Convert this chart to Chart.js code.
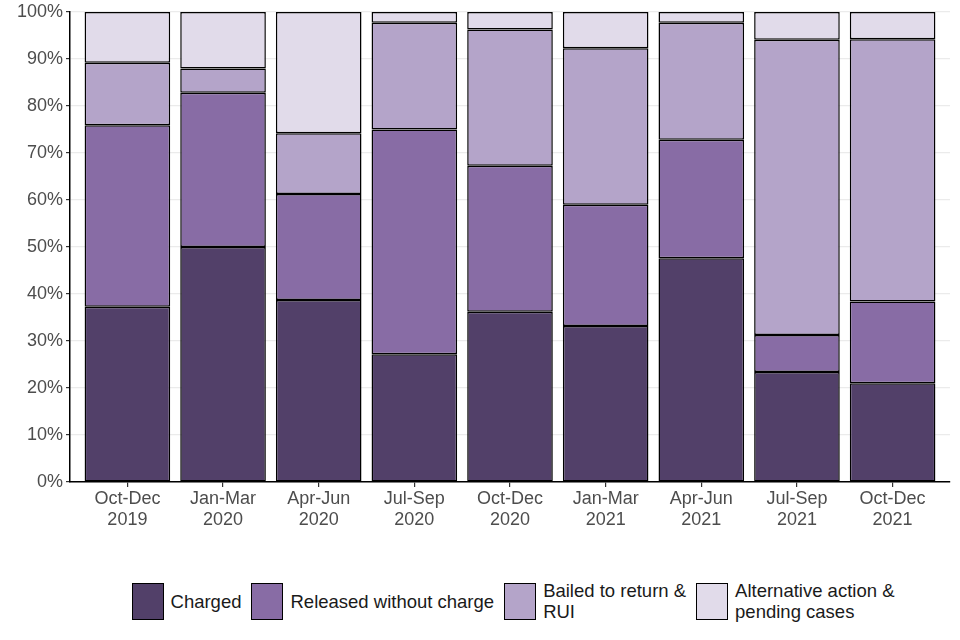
<!DOCTYPE html>
<html>
<head>
<meta charset="utf-8">
<script src="https://cdn.jsdelivr.net/npm/chart.js@4/dist/chart.umd.min.js"></script>
<style>
  html, body { margin: 0; padding: 0; background: #fff; }
  #wrap { position: relative; width: 960px; height: 640px; }
  #c { position: absolute; left: 0; top: 0; }
  #legend { position: absolute; left: 38px; top: 580px; width: 960px; display: flex; justify-content: center; align-items: center;
    font-family: "Liberation Sans", Arial, sans-serif; font-size: 18.5px; color: #1a1a1a; }
  .item { display: flex; align-items: center; margin-right: 10px; }
  .box { width: 32px; height: 37px; border: 1px solid #000; box-sizing: border-box; margin-right: 7px; }
  .lab { line-height: 21px; }
</style>
</head>
<body>
<div id="wrap">
  <canvas id="c" width="960" height="545"></canvas>
  <div id="legend"></div>
</div>
<script>
const categories = [["Oct-Dec","2019"],["Jan-Mar","2020"],["Apr-Jun","2020"],["Jul-Sep","2020"],["Oct-Dec","2020"],["Jan-Mar","2021"],["Apr-Jun","2021"],["Jul-Sep","2021"],["Oct-Dec","2021"]];
const charged  = [37.3, 50.0, 38.7, 27.2, 36.2, 33.2, 47.6, 23.4, 21.0];
const released = [38.6, 32.8, 22.6, 47.8, 31.1, 25.8, 25.2, 7.9, 17.4];
const bailed   = [13.3, 5.2, 12.9, 22.7, 29.0, 33.3, 24.9, 62.8, 55.8];
const altAction = [10.8, 12.0, 25.8, 2.3, 3.7, 7.7, 2.3, 5.9, 5.8];
const seriesNames = ["Charged", "Released without charge", ["Bailed to return &", "RUI"], ["Alternative action &", "pending cases"]];
const seriesColors = ["#524069", "#886ca5", "#b4a4c9", "#e1dbea"];
const yTicks = [0,10,20,30,40,50,60,70,80,90,100];

const seriesData = [charged, released, bailed, altAction];
const datasets = seriesData.map((arr, i) => ({
  label: Array.isArray(seriesNames[i]) ? seriesNames[i].join(" ") : seriesNames[i],
  data: arr.map((v, j) => ({ x: j + 1, y: v })),
  backgroundColor: seriesColors[i],
  borderColor: "#000",
  borderWidth: 1.5,
  borderSkipped: false,
  categoryPercentage: 1,
  barPercentage: 0.895
}));

const xFont = { family: '"Liberation Sans", Arial, sans-serif', size: 18, lineHeight: 1.2 };
const yFont = { family: '"Liberation Sans", Arial, sans-serif', size: 18, lineHeight: 1.0 };

new Chart(document.getElementById("c"), {
  type: "bar",
  data: { datasets },
  options: {
    responsive: false,
    animation: false,
    layout: { padding: { top: 0, right: 10, left: 0, bottom: 0 } },
    plugins: { legend: { display: false }, tooltip: { enabled: false } },
    scales: {
      x: {
        type: "linear",
        stacked: true,
        offset: false,
        min: 0.4, max: 9.6,
        afterBuildTicks: s => { s.ticks = categories.map((c, i) => ({ value: i + 1 })); },
        afterFit: s => { s.height = 63; },
        ticks: {
          callback: (v) => categories[v - 1] || "",
          color: "#4d4d4d", font: xFont, padding: 1, maxRotation: 0, autoSkip: false
        },
        grid: { offset: false, drawOnChartArea: false, drawTicks: true, tickLength: 5, tickColor: "#333", lineWidth: 1.2 },
        border: { display: true, color: "#000", width: 1.5 }
      },
      y: {
        stacked: true,
        min: 0, max: 100,
        afterBuildTicks: s => { s.ticks = yTicks.map(v => ({ value: v })); },
        afterFit: s => { s.width = 70; },
        ticks: { callback: v => v + "%", color: "#4d4d4d", font: yFont, padding: 3 },
        grid: { color: "#ebebeb", lineWidth: 1.2, drawTicks: true, tickLength: 4, tickColor: "#333" },
        border: { display: true, color: "#000", width: 1.5 }
      }
    }
  }
});

const leg = document.getElementById("legend");
seriesNames.forEach((n, i) => {
  const it = document.createElement("div"); it.className = "item";
  const b = document.createElement("div"); b.className = "box"; b.style.background = seriesColors[i];
  const l = document.createElement("div"); l.className = "lab";
  (Array.isArray(n) ? n : [n]).forEach((line, k) => {
    if (k) l.appendChild(document.createElement("br"));
    l.appendChild(document.createTextNode(line));
  });
  it.appendChild(b); it.appendChild(l); leg.appendChild(it);
});
</script>
</body>
</html>
